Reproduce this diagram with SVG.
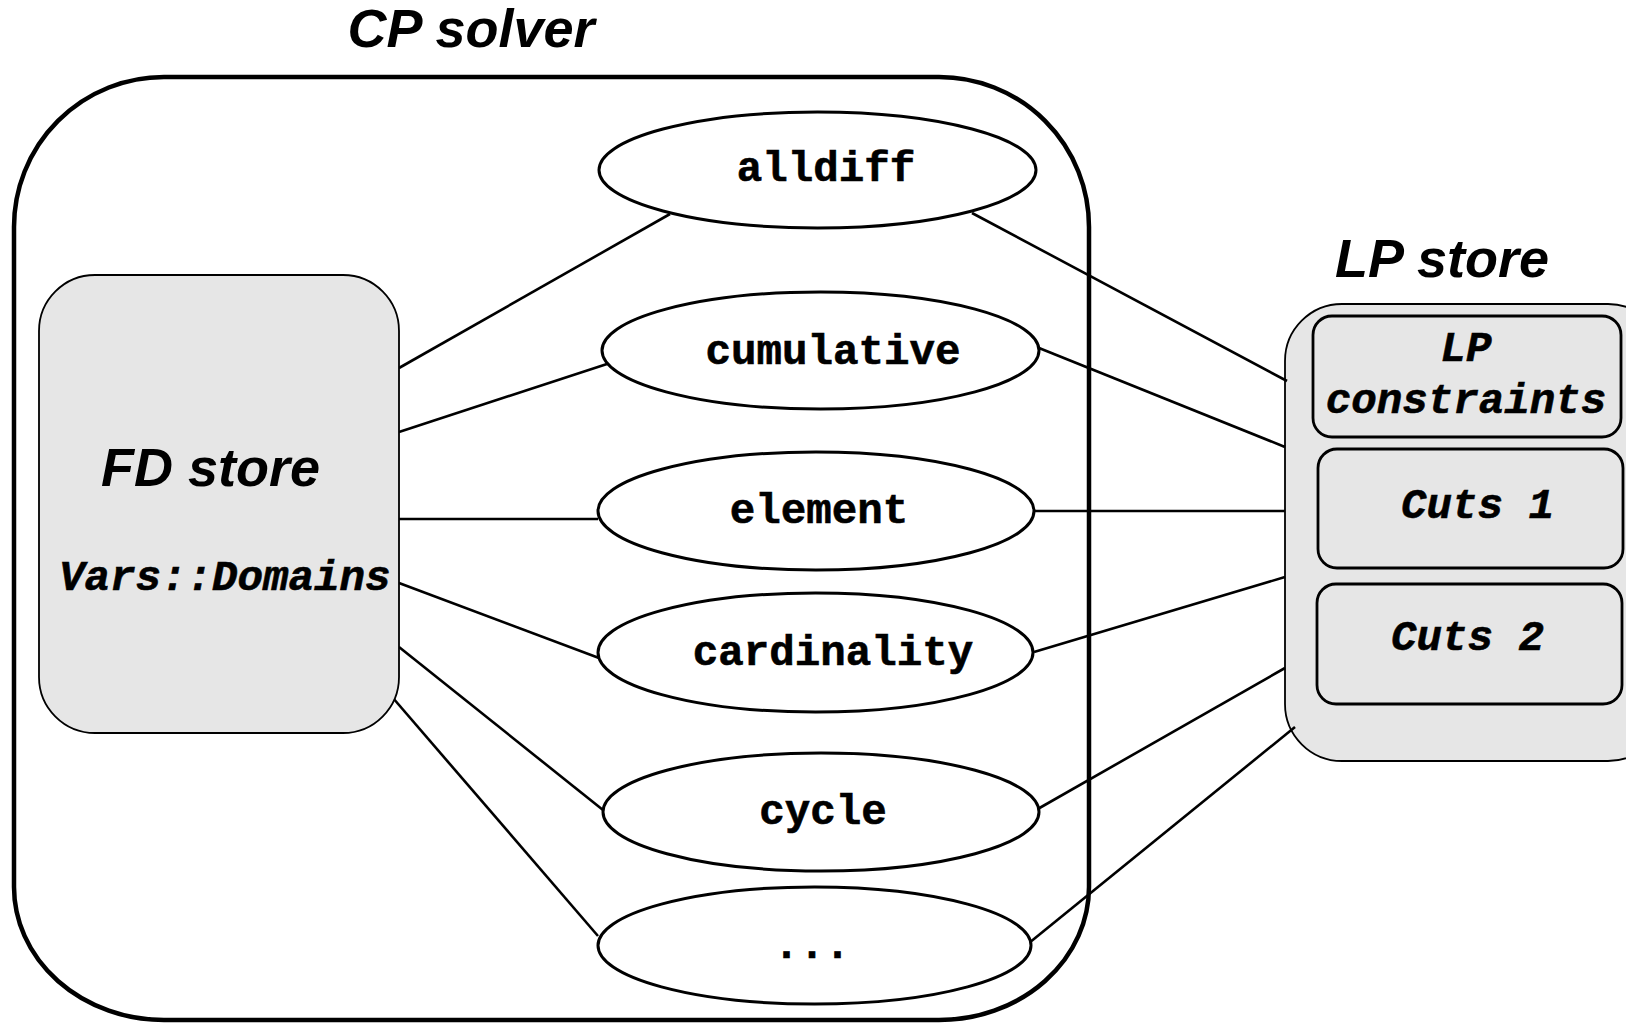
<svg xmlns="http://www.w3.org/2000/svg" width="1626" height="1023" viewBox="0 0 1626 1023">
<style>
.title{font-family:"Liberation Sans",Arial,sans-serif;font-weight:bold;font-style:italic;font-size:54px;fill:#000}
.mono{font-family:"Liberation Mono","Courier New",monospace;font-weight:bold;font-size:42.5px;fill:#000;stroke:#000;stroke-width:0.6}
.monoi{font-family:"Liberation Mono","Courier New",monospace;font-weight:bold;font-style:italic;font-size:42.5px;fill:#000;stroke:#000;stroke-width:0.6}
.ell{fill:#fff;stroke:#000;stroke-width:3}
.store{fill:#e6e6e6;stroke:#000;stroke-width:1.8}
.inner{fill:#e6e6e6;stroke:#000;stroke-width:2.8}
.conn line{stroke:#000;stroke-width:2.6}
</style>
<rect width="1626" height="1023" fill="#fff"/>
<g id="cp-solver">
<path d="M164,77 H939 A150,150 0 0 1 1089,227 V887 A150,133 0 0 1 939,1020 H164 A150,133 0 0 1 14,887 V227 A150,150 0 0 1 164,77 Z" fill="none" stroke="#000" stroke-width="4.5"/>
<text class="title" x="471" y="47" text-anchor="middle">CP solver</text>
</g>
<g id="lp-store">
<rect class="store" x="1285" y="304" width="380" height="457" rx="57" ry="57"/>
<text class="title" x="1442" y="277" text-anchor="middle">LP store</text>
</g>
<g id="lp-constraints">
<rect class="inner" x="1313" y="316" width="308" height="121" rx="19" ry="19"/>
<text class="monoi" x="1466" y="361" text-anchor="middle">LP</text>
<text class="monoi" x="1466" y="413" text-anchor="middle">constraints</text>
</g>
<g id="cuts1">
<rect class="inner" x="1318" y="449" width="305" height="119" rx="19" ry="19"/>
<text class="monoi" x="1401" y="518">Cuts 1</text>
</g>
<g id="cuts2">
<rect class="inner" x="1317" y="584" width="305" height="120" rx="19" ry="19"/>
<text class="monoi" x="1391" y="650">Cuts 2</text>
</g>
<g id="connectors">
<g class="conn">
<line x1="399" y1="368" x2="670" y2="214"/>
<line x1="399" y1="432" x2="607" y2="364"/>
<line x1="399" y1="519" x2="598" y2="519"/>
<line x1="399" y1="583" x2="599" y2="658"/>
<line x1="399" y1="647" x2="603" y2="810"/>
<line x1="393" y1="698" x2="598" y2="936"/>
<line x1="972" y1="213" x2="1287" y2="381"/>
<line x1="1039" y1="348" x2="1285" y2="447"/>
<line x1="1034" y1="511" x2="1285" y2="511"/>
<line x1="1034" y1="652" x2="1285" y2="577"/>
<line x1="1036" y1="810" x2="1285" y2="668"/>
<line x1="1029" y1="943" x2="1295" y2="727"/>
</g>
</g>
<g id="fd-store">
<rect class="store" x="39" y="275" width="360" height="458" rx="56" ry="56"/>
<text class="title" x="101" y="486">FD store</text>
<text class="monoi" x="59" y="590" font-size="43.2">Vars::Domains</text>
</g>
<g id="alldiff">
<ellipse class="ell" cx="817.5" cy="170" rx="218.5" ry="58"/>
<text class="mono" x="826" y="181" text-anchor="middle">alldiff</text>
</g>
<g id="cumulative">
<ellipse class="ell" cx="820.5" cy="350.5" rx="218.5" ry="58.5"/>
<text class="mono" x="833" y="364" text-anchor="middle">cumulative</text>
</g>
<g id="element">
<ellipse class="ell" cx="816" cy="511" rx="218" ry="59"/>
<text class="mono" x="819" y="523" text-anchor="middle">element</text>
</g>
<g id="cardinality">
<ellipse class="ell" cx="815.5" cy="652.5" rx="217.5" ry="59.5"/>
<text class="mono" x="833" y="665" text-anchor="middle">cardinality</text>
</g>
<g id="cycle">
<ellipse class="ell" cx="821" cy="812" rx="218" ry="59"/>
<text class="mono" x="823" y="824" text-anchor="middle">cycle</text>
</g>
<g id="etc">
<ellipse class="ell" cx="814.5" cy="945.5" rx="216.5" ry="58.5"/>
<text class="mono" x="812" y="958" text-anchor="middle">...</text>
</g>
</svg>
